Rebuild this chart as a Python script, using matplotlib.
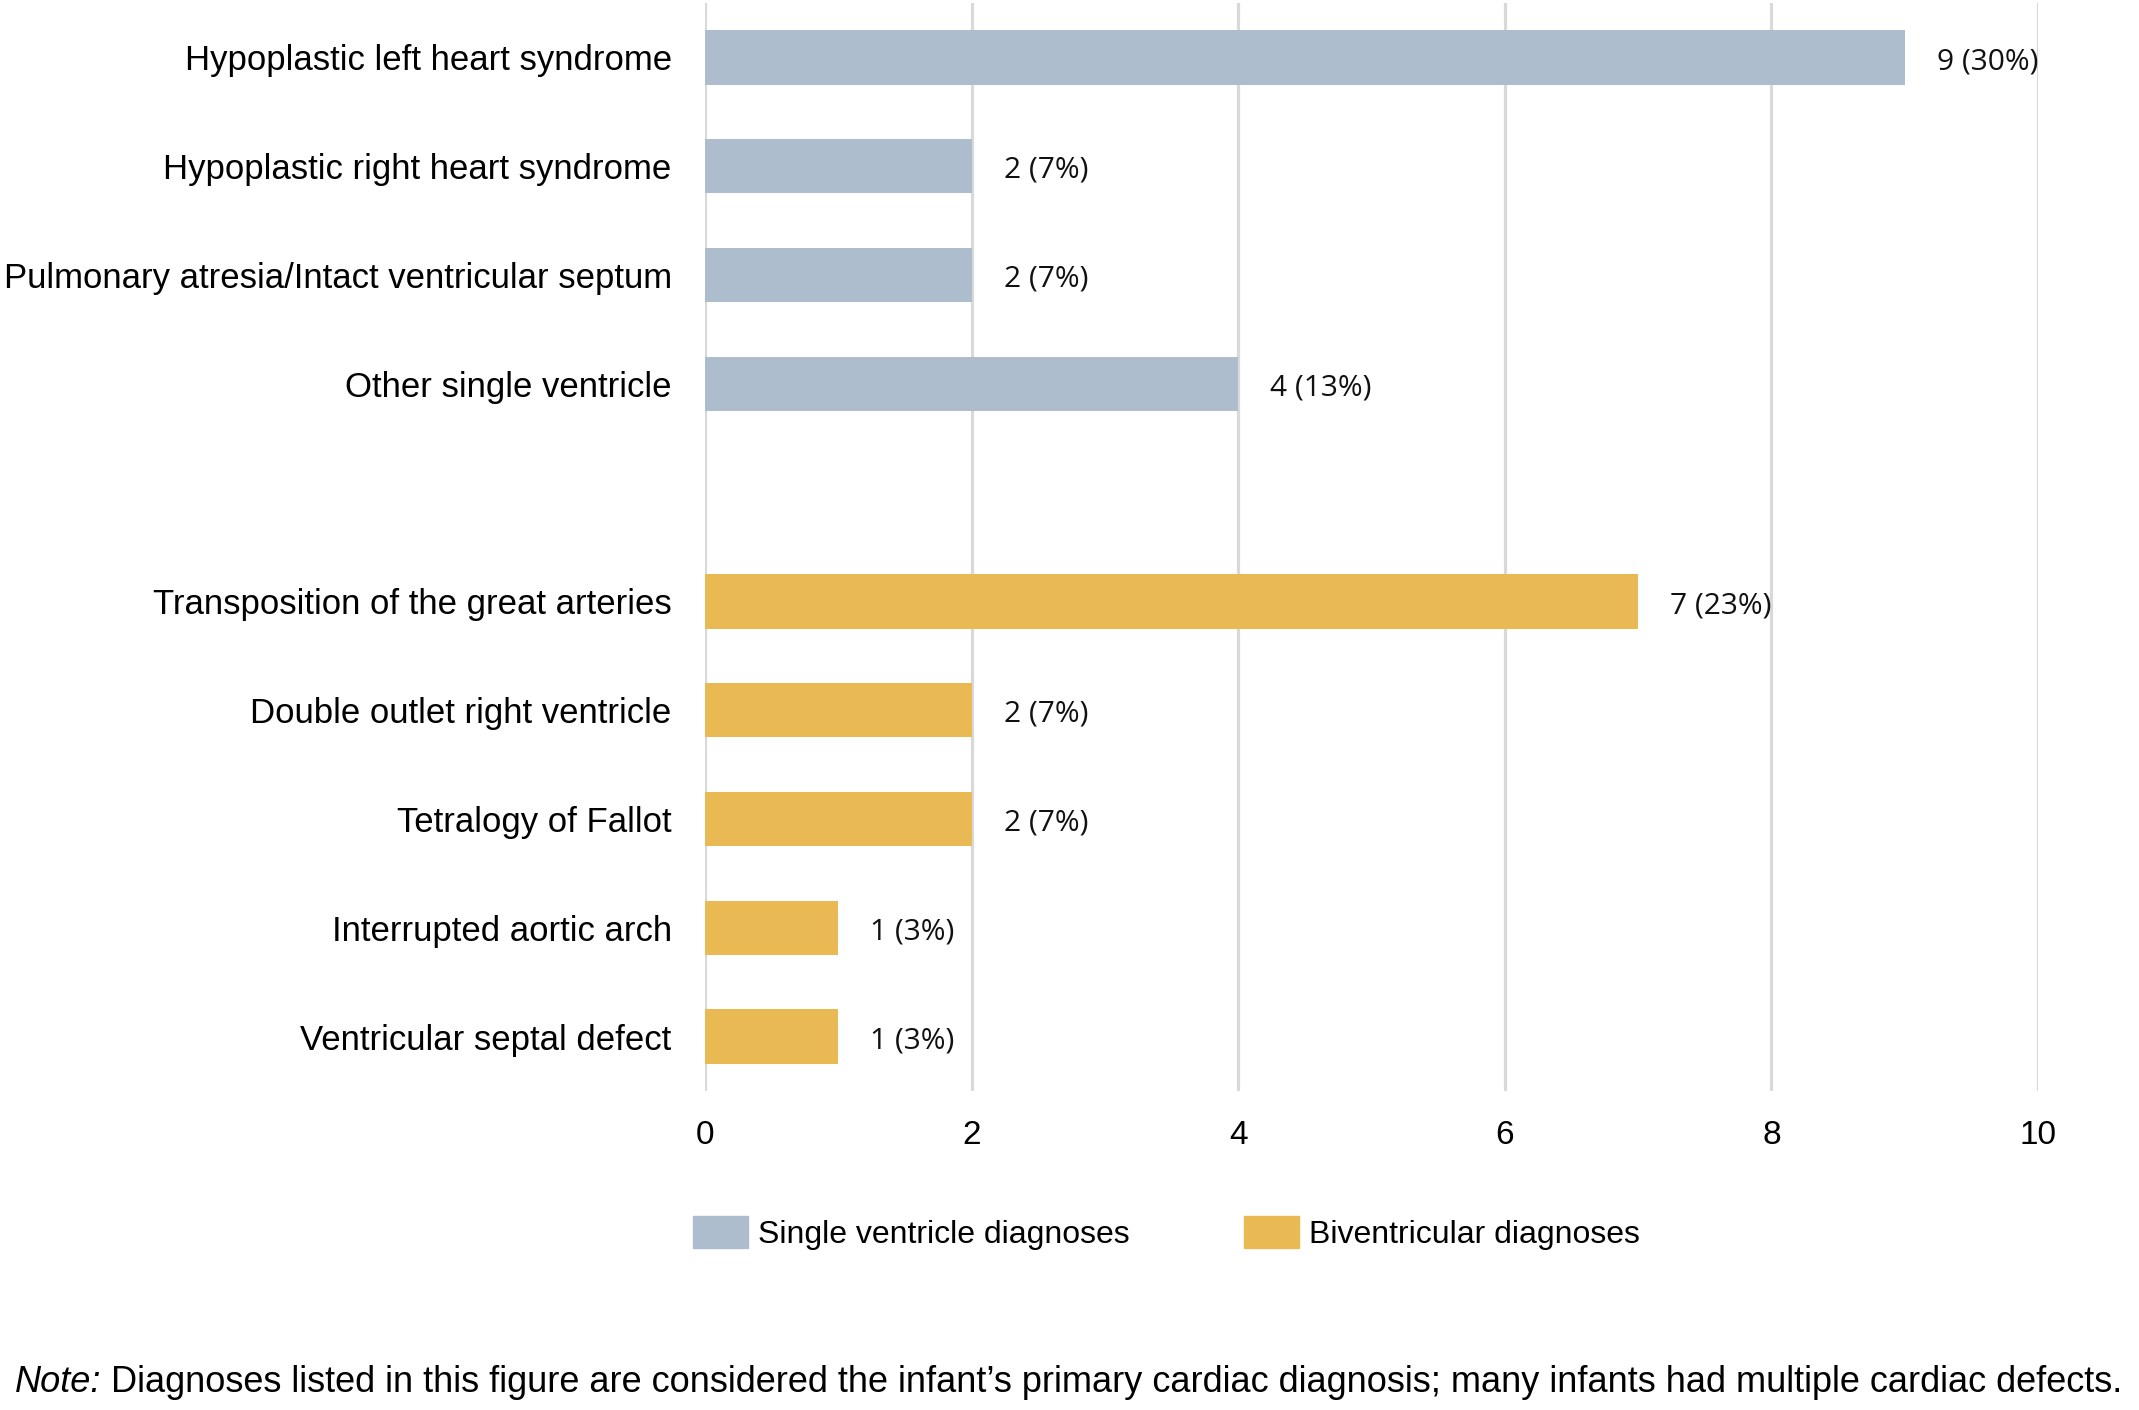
import matplotlib
matplotlib.use("Agg")
import matplotlib.pyplot as plt
import matplotlib.patches as mpatches
import numpy as np

# Datos
diagnosticos_sv = ['Hypoplastic left heart syndrome',
                   'Hypoplastic right heart syndrome',
                   'Pulmonary atresia/Intact ventricular septum',
                   'Other single ventricle']
valores_sv = [9, 2, 2, 4]
etiquetas_sv = ['9 (30%)', '2 (7%)', '2 (7%)', '4 (13%)']

diagnosticos_bv = ['Transposition of the great arteries',
                   'Double outlet right ventricle',
                   'Tetralogy of Fallot',
                   'Interrupted aortic arch',
                   'Ventricular septal defect']
valores_bv = [7, 2, 2, 1, 1]
etiquetas_bv = ['7 (23%)', '2 (7%)', '2 (7%)', '1 (3%)', '1 (3%)']

leyenda = ['Single ventricle diagnoses', 'Biventricular diagnoses']
nota_a = 'Note:'
nota_b = (" Diagnoses listed in this figure are considered the infant\u2019s primary "
          "cardiac diagnosis; many infants had multiple cardiac defects.")

color_sv = '#ADBDCE'
color_bv = '#E9BA53'
color_grid = '#D9D9D9'

plt.rcParams['font.family'] = ['Liberation Sans', 'DejaVu Sans']

W, H = 2139, 1410
fig = plt.figure(figsize=(W / 100, H / 100), dpi=100)
ax = fig.add_axes([705 / W, 1 - 1091 / H, (2038 - 705) / W, (1091 - 3) / H])

# posiciones: 4 barras, un hueco, 5 barras
pos_sv = np.arange(len(valores_sv))
pos_bv = np.arange(len(valores_bv)) + len(valores_sv) + 1

ax.barh(pos_sv, valores_sv, height=0.5, color=color_sv, zorder=3)
ax.barh(pos_bv, valores_bv, height=0.5, color=color_bv, zorder=3)

for p, v, t in zip(list(pos_sv) + list(pos_bv), valores_sv + valores_bv,
                   etiquetas_sv + etiquetas_bv):
    ax.annotate(t, xy=(v, p), xytext=(23, -3), textcoords='offset points',
                va='center', ha='left', fontsize=21.5, family=['Open Sans', 'DejaVu Sans'],
                color='#111111')

ax.set_yticks(list(pos_sv) + list(pos_bv))
ax.set_yticklabels(diagnosticos_sv + diagnosticos_bv, fontsize=25)
ax.set_ylim(len(valores_sv) + len(valores_bv) + 0.5, -0.5)

ax.set_xlim(0, 10)
ax.set_xticks(np.arange(0, 11, 2))
ax.tick_params(axis='x', labelsize=24, length=0, pad=21)
ax.tick_params(axis='y', length=0, pad=24)
ax.xaxis.grid(True, color=color_grid, linewidth=2.3, zorder=0)
ax.set_axisbelow(True)
for s in ax.spines.values():
    s.set_visible(False)

handles = [mpatches.Patch(color=color_sv, label=leyenda[0]),
           mpatches.Patch(color=color_bv, label=leyenda[1])]
fig.legend(handles=handles, loc='center left', bbox_to_anchor=(693 / W, 1 - 1233 / H),
           ncol=2, frameon=False, fontsize=23, handlelength=1.72, handleheight=1.15,
           handletextpad=0.3, columnspacing=3.6, borderpad=0, borderaxespad=0)

t1 = fig.text(15 / W, 1 - 1383 / H, nota_a, fontsize=26, style='italic', va='center')
ax.annotate(nota_b, xy=(1, 0.5), xycoords=t1, va='center', ha='left', fontsize=26,
            annotation_clip=False)

fig.savefig('out.png', dpi=100)
